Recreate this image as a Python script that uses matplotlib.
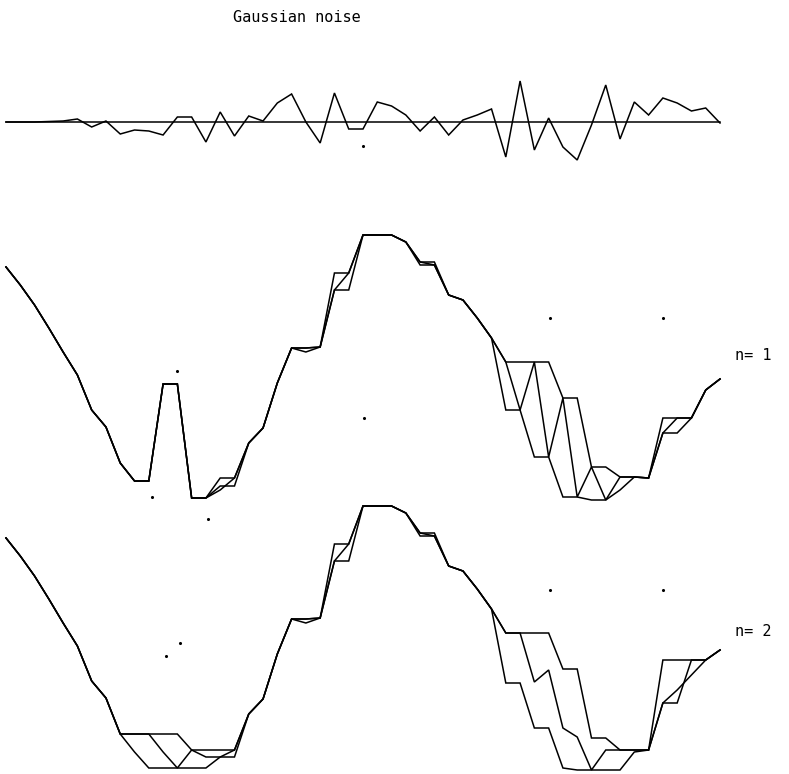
import matplotlib
matplotlib.use("Agg")
import matplotlib.pyplot as plt

# muestras 0..50, mismo paso para el ruido y las curvas
k = list(range(51))

# ruido gaussiano (alrededor de cero)
noise = [0, 0, 0, 0.5, 1, 3, -5, 1, -12, -8,
         -9, -13, 5, 5, -20, 10, -14, 6, 1, 19,
         28, 0, -21, 29, -7, -7, 20, 16, 7, -9,
         5, -13, 2, 7, 13, -35, 41, -28, 4, -25,
         -38, -3, 37, -17, 20, 7, 24, 19, 11, 14,
         -1]

# n = 1 : tres trazas superpuestas
p1_a = [238, 220, 200, 177, 153, 130, 95, 78, 42, 24,
        24, 121, 121, 7, 7, 27, 27, 62, 77, 122,
        157, 157, 158, 232, 232, 270, 270, 270, 263, 243,
        243, 210, 205, 187, 167, 143, 143, 143, 143, 107,
        107, 38, 38, 28, 28, 27, 87, 87, 87, 115,
        126]
p1_b = [238, 220, 200, 177, 153, 130, 95, 78, 42, 24,
        24, 121, 121, 7, 7, 19, 19, 62, 77, 122,
        157, 153, 158, 215, 215, 270, 270, 270, 263, 240,
        240, 210, 205, 187, 167, 95, 95, 143, 48, 107,
        8, 38, 5, 28, 28, 27, 72, 87, 87, 115,
        126]
p1_c = [238, 220, 200, 177, 153, 130, 95, 78, 42, 24,
        24, 121, 121, 7, 7, 15, 27, 62, 77, 122,
        157, 157, 158, 215, 232, 270, 270, 270, 263, 243,
        240, 210, 205, 187, 167, 143, 95, 48, 48, 8,
        8, 5, 5, 15, 28, 27, 72, 72, 87, 115,
        126]

# n = 2
p2_a = [238, 220, 200, 177, 153, 130, 95, 78, 42, 42,
        42, 42, 42, 26, 26, 26, 26, 62, 77, 122,
        157, 157, 158, 232, 232, 270, 270, 270, 263, 243,
        243, 210, 205, 187, 167, 143, 143, 143, 143, 107,
        107, 38, 38, 26, 26, 26, 116, 116, 116, 116,
        126]
p2_b = [238, 220, 200, 177, 153, 130, 95, 78, 42, 24,
        8, 8, 8, 8, 8, 19, 26, 62, 77, 122,
        157, 153, 158, 215, 215, 270, 270, 270, 263, 240,
        240, 210, 205, 187, 167, 143, 143, 94, 106, 48,
        39, 6, 26, 26, 26, 26, 73, 86, 101, 116,
        126]
p2_c = [238, 220, 200, 177, 153, 130, 95, 78, 42, 42,
        42, 24, 8, 26, 19, 19, 19, 62, 77, 122,
        157, 157, 158, 215, 232, 270, 270, 270, 263, 243,
        240, 210, 205, 187, 167, 93, 93, 48, 48, 8,
        6, 6, 6, 6, 24, 26, 73, 73, 116, 116,
        126]

# puntitos sueltos del trazador
dots_noise_k = [25.0]
dots_noise_v = [-24]
dots_p1_k = [12.0, 10.2, 14.15, 25.1, 38.1, 46.0]
dots_p1_v = [134, 8, -14, 87, 187, 187]
dots_p2_k = [12.2, 11.2, 38.1, 46.0]
dots_p2_v = [133, 120, 186, 186]

W, H = 789, 774
fig = plt.figure(figsize=(W / 100, H / 100), dpi=100)
fig.patch.set_facecolor("white")


def ejes(top, bottom, ylim):
    # crea unos ejes sin marco entre dos alturas en pixeles
    ax = fig.add_axes([0, 1 - bottom / H, 1, (bottom - top) / H])
    ax.set_xlim(-6 / 14.28, (W - 6) / 14.28)
    ax.set_ylim(*ylim)
    ax.axis("off")
    ax.patch.set_alpha(0)
    return ax


estilo = dict(color="black", lw=1.1, solid_joinstyle="miter")

# ruido
ax0 = ejes(60, 180, (-58, 62))
ax0.plot([k[0], k[-1]], [0, 0], **estilo)
ax0.plot(k, noise, **estilo)
ax0.scatter(dots_noise_k, dots_noise_v, s=1.5, color="black")

# n = 1
ax1 = ejes(220, 520, (-15, 285))
for serie in (p1_a, p1_b, p1_c):
    ax1.plot(k, serie, **estilo)
ax1.scatter(dots_p1_k, dots_p1_v, s=1.5, color="black")

# n = 2
ax2 = ejes(490, 774, (2, 286))
for serie in (p2_a, p2_b, p2_c):
    ax2.plot(k, serie, **estilo)
ax2.scatter(dots_p2_k, dots_p2_v, s=1.5, color="black")

fuente = dict(family="DejaVu Sans Mono", fontsize=11, color="black")
fig.text(297 / W, 1 - 18 / H, "Gaussian noise", ha="center", va="center", **fuente)
fig.text(735 / W, 1 - 355 / H, "n= 1", ha="left", va="center", **fuente)
fig.text(735 / W, 1 - 632 / H, "n= 2", ha="left", va="center", **fuente)

fig.savefig("out.png", dpi=100)
